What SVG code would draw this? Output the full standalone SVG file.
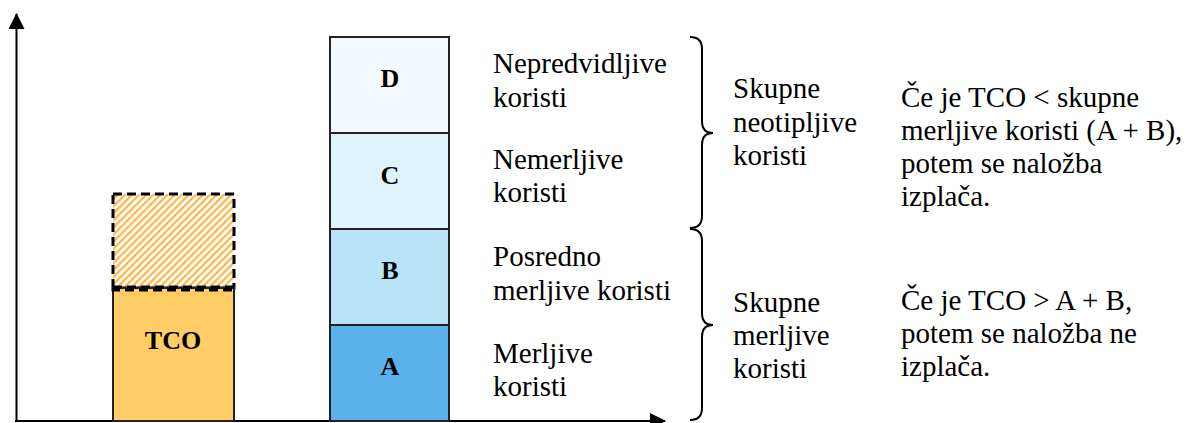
<svg xmlns="http://www.w3.org/2000/svg" width="1191" height="423" viewBox="0 0 1191 423">
<style>
.t{font-size:29px;fill:#000}
.b{font-size:26px;font-weight:bold;fill:#000;text-anchor:middle}
.box{stroke:#222;stroke-width:2}
.ax{stroke:#000;stroke-width:2;fill:none}
.br{stroke:#000;stroke-width:2;fill:none}
</style>
<defs>
<pattern id="hatch" width="5" height="5" patternUnits="userSpaceOnUse" patternTransform="rotate(45)">
<rect width="5" height="5" fill="#fff"/>
<rect width="2.2" height="5" fill="#FFB445"/>
</pattern>
<marker id="arr" markerWidth="16" markerHeight="16" viewBox="0 0 16 16" refX="15" refY="8" orient="auto" markerUnits="userSpaceOnUse">
<path d="M0,0 L16,8 L0,16 Z" fill="#000"/>
</marker>
</defs>
<rect width="1191" height="423" fill="#fff"/>
<g id="connectors">
<line class="ax" x1="16.5" y1="422" x2="16.5" y2="14" marker-end="url(#arr)"/>
<line class="ax" x1="15" y1="421" x2="665" y2="421" marker-end="url(#arr)"/>
<path class="br" d="M690,37 Q702,37 702,49 L702,121 Q702,133 713,133 Q702,133 702,145 L702,216 Q702,228 690,228"/>
<path class="br" d="M690,229 Q702,229 702,241 L702,313 Q702,325 713,325 Q702,325 702,337 L702,408 Q702,420 690,420"/>
</g>
<g font-family="'Liberation Serif', 'Times New Roman', serif">
<g id="tco-extra">
<rect x="113" y="194" width="121" height="94" fill="url(#hatch)" stroke="#000" stroke-width="3" stroke-dasharray="9,5"/>
</g>
<g id="tco">
<rect class="box" x="113" y="288" width="121" height="133" fill="#FFCC66"/>
<rect x="113" y="287" width="121" height="3" fill="none" stroke="#000" stroke-width="3" stroke-dasharray="9,5"/>
<text class="b" x="173" y="349">TCO</text>
</g>
<g id="node-d">
<rect class="box" x="330" y="37" width="119" height="96" fill="#F2FAFE"/>
<text class="b" x="390" y="87">D</text>
</g>
<g id="node-c">
<rect class="box" x="330" y="133" width="119" height="96" fill="#DFF3FA"/>
<text class="b" x="390" y="184">C</text>
</g>
<g id="node-b">
<rect class="box" x="330" y="229" width="119" height="96" fill="#B9E3F7"/>
<text class="b" x="390" y="279">B</text>
</g>
<g id="node-a">
<rect class="box" x="330" y="325" width="119" height="96" fill="#5BB1EC"/>
<text class="b" x="390" y="375">A</text>
</g>
<g id="labels">
<text class="t" x="493" y="73">Nepredvidljive</text>
<text class="t" x="493" y="107">koristi</text>
<text class="t" x="493" y="169">Nemerljive</text>
<text class="t" x="493" y="202">koristi</text>
<text class="t" x="493" y="266">Posredno</text>
<text class="t" x="493" y="300">merljive koristi</text>
<text class="t" x="493" y="363">Merljive</text>
<text class="t" x="493" y="396">koristi</text>
</g>
<g id="brace-labels">
<text class="t" x="733" y="98">Skupne</text>
<text class="t" x="733" y="132">neotipljive</text>
<text class="t" x="733" y="165">koristi</text>
<text class="t" x="733" y="312">Skupne</text>
<text class="t" x="733" y="345">merljive</text>
<text class="t" x="733" y="378">koristi</text>
</g>
<g id="notes">
<text class="t" x="901" y="107">Če je TCO &lt; skupne</text>
<text class="t" x="901" y="140">merljive koristi (A + B),</text>
<text class="t" x="901" y="173">potem se naložba</text>
<text class="t" x="901" y="206">izplača.</text>
<text class="t" x="901" y="310">Če je TCO &gt; A + B,</text>
<text class="t" x="901" y="343">potem se naložba ne</text>
<text class="t" x="901" y="376">izplača.</text>
</g>
</g>
</svg>
